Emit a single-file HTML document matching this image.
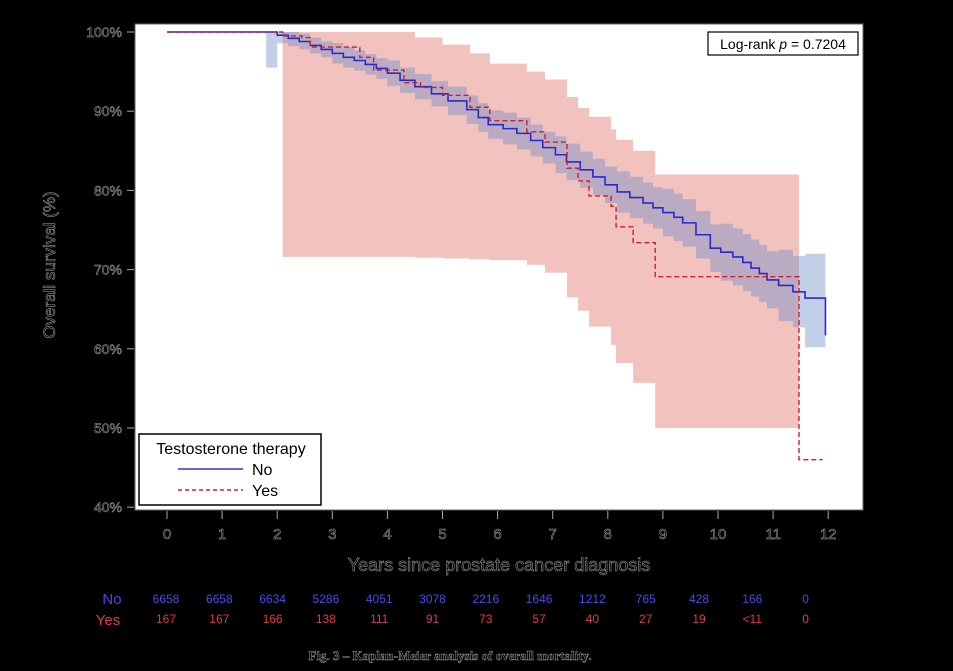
<!DOCTYPE html>
<html><head><meta charset="utf-8"><style>
html,body{margin:0;padding:0;background:#000;}
svg{display:block;}
.ol{fill:#000;stroke:#aaa;stroke-width:0.5px;font-family:"Liberation Sans",sans-serif;}
</style></head><body>
<svg id="chart" width="953" height="671" viewBox="0 0 953 671" xmlns="http://www.w3.org/2000/svg">
<rect x="0" y="0" width="953" height="671" fill="#000"/>
<rect x="135" y="24" width="728" height="486" fill="#fff" stroke="#666" stroke-width="1"/>
<g id="bands"></g>
<g id="lines"></g>
<g id="axes"></g>
<g id="table"></g>
<g>
<rect x="708" y="32" width="150" height="23" fill="#fff" stroke="#000" stroke-width="1.2"/>
<text x="783" y="49" text-anchor="middle" font-family="Liberation Sans,sans-serif" font-size="14" fill="#000">Log-rank <tspan font-style="italic">p</tspan> = 0.7204</text>
</g>
<g>
<rect x="139" y="434" width="182" height="71" fill="#fff" stroke="#000" stroke-width="1.5"/>
<text x="231" y="454" text-anchor="middle" font-family="Liberation Sans,sans-serif" font-size="16" fill="#000">Testosterone therapy</text>
<line x1="178" y1="469" x2="243" y2="469" stroke="#3333cc" stroke-width="1.5"/>
<text x="252" y="475" font-family="Liberation Sans,sans-serif" font-size="16" fill="#000">No</text>
<line x1="178" y1="490" x2="243" y2="490" stroke="#cc2233" stroke-width="1.5" stroke-dasharray="4,3"/>
<text x="252" y="496" font-family="Liberation Sans,sans-serif" font-size="16" fill="#000">Yes</text>
</g>
<text class="ol" x="0" y="0" transform="translate(55,265) rotate(-90)" text-anchor="middle" font-size="17">Overall survival (%)</text>
<text class="ol" x="499" y="571" text-anchor="middle" font-size="18">Years since prostate cancer diagnosis</text>
<text x="450" y="660" text-anchor="middle" font-family="Liberation Serif,serif" font-weight="bold" font-size="13" fill="#000" stroke="#999" stroke-width="0.5">Fig. 3 – Kaplan-Meier analysis of overall mortality.</text>
</svg>
<script>
const noTimes = [0,1.8,2.0,2.2,2.4,2.6,2.8,3.0,3.2,3.4,3.6,3.8,4.0,4.23,4.5,4.8,5.1,5.44,5.65,5.83,6.1,6.35,6.6,6.82,7.05,7.25,7.5,7.73,7.95,8.17,8.4,8.64,8.82,9.0,9.2,9.36,9.6,9.86,10.05,10.27,10.45,10.6,10.75,10.89,11.1,11.36,11.58,11.95];
const noSurv  = [100,100,99.6,99.2,98.8,98.3,97.8,97.3,96.8,96.4,95.9,95.4,94.8,93.9,93.1,92.2,91.3,90.2,89.2,88.3,87.8,87.2,86.3,85.4,84.5,83.6,82.6,81.7,80.7,79.8,79.1,78.4,77.8,77.2,76.6,75.9,74.4,72.7,72.2,71.6,70.9,70.2,69.5,68.7,68.0,67.2,66.4,61.7];
const noLower = [100,95.5,98.6,98.2,97.8,97.3,96.8,96.0,95.5,95.1,94.6,94.1,93.2,92.3,91.5,90.6,89.5,88.4,87.4,86.5,85.8,85.2,84.3,83.4,82.2,81.3,80.3,79.4,78.4,77.2,76.5,75.8,75.2,74.2,73.6,72.9,71.4,69.7,68.6,68.0,67.3,66.6,65.9,65.1,63.5,62.7,60.2,60.2];
const noUpper = [100,100,100,100,99.8,99.3,98.8,98.6,98.1,97.7,97.2,96.7,96.4,95.5,94.7,93.8,93.1,92.0,91.0,90.1,89.8,89.2,88.3,87.4,86.8,85.9,84.9,84.0,83.0,82.4,81.7,81.0,80.4,80.2,79.6,78.9,77.4,75.7,75.8,75.2,74.5,73.8,73.1,72.3,72.5,71.7,72.0,72.0];
const yesTimes = [0,2.1,2.45,2.6,3.5,3.75,4.3,4.6,5.0,5.5,5.86,6.53,6.86,7.26,7.46,7.66,8.06,8.15,8.46,8.86,11.47,11.9];
const yesSurv  = [100,99.5,99.3,98.1,96.8,95.2,93.6,93.0,92.0,90.5,88.8,87.4,86.1,82.8,81.2,79.3,78.0,75.4,73.4,69.1,46.0,46.0];
const ciTimes  = [2.1,3.8,4.5,5.0,5.5,5.86,6.53,6.86,7.26,7.46,7.66,8.06,8.15,8.46,8.86,11.47];
const yesUpper = [100,100,99.3,98.4,97.3,96.0,95.0,94.0,91.8,90.4,89.3,87.7,86.4,85.0,82.0,82.0];
const yesLower = [71.6,71.6,71.5,71.4,71.3,71.2,70.6,69.6,66.5,64.8,62.8,60.5,58.2,55.7,50.0,50.0];
const xTicks = [0,1,2,3,4,5,6,7,8,9,10,11,12];
const yTicks = [40,50,60,70,80,90,100];
const riskNo  = ["6658","6658","6634","5286","4051","3078","2216","1646","1212","765","428","166","0"];
const riskYes = ["167","167","166","138","111","91","73","57","40","27","19","<11","0"];

const NS='http://www.w3.org/2000/svg';
const X = t => 167 + t*55.1;
const Y = v => 32 + (100 - v)*7.92;
function mk(tag, attrs, parent){const e=document.createElementNS(NS,tag);for(const k in attrs)e.setAttribute(k,attrs[k]);parent.appendChild(e);return e;}
const bands=document.getElementById('bands'), lines=document.getElementById('lines'), axes=document.getElementById('axes'), table=document.getElementById('table');

function stepBand(times, up, lo, endT){
  let top='', bot=[];
  for(let i=0;i<times.length;i++){
    const t0=times[i], t1=(i<times.length-1)?times[i+1]:endT;
    top += (i===0?'M':'L')+X(t0)+','+Y(up[i])+' L'+X(t1)+','+Y(up[i])+' ';
    bot.unshift('L'+X(t1)+','+Y(lo[i])+' L'+X(t0)+','+Y(lo[i]));
  }
  return top+bot.join(' ')+' Z';
}
function stepLine(times, vals){
  let d='M'+X(times[0])+','+Y(vals[0]);
  for(let i=1;i<times.length;i++){ d+=' L'+X(times[i])+','+Y(vals[i-1])+' L'+X(times[i])+','+Y(vals[i]); }
  return d;
}
const rb=mk('path',{d:stepBand(ciTimes,yesUpper,yesLower,11.47),fill:'rgba(224,120,110,0.45)'},bands);


const nT=noTimes.slice(1,-1), nU=noUpper.slice(1,-1), nL=noLower.slice(1,-1);
const bb=mk('path',{d:stepBand(nT,nU,nL,11.95),fill:'rgba(110,140,200,0.42)'},bands);


const ln=mk('path',{d:stepLine(noTimes,noSurv),fill:'none',stroke:'#2a2acc','stroke-width':1.6},lines);


const ly=mk('path',{d:stepLine(yesTimes,yesSurv),fill:'none',stroke:'#c8202e','stroke-width':1.4,'stroke-dasharray':'5,3'},lines);



yTicks.forEach(v=>{
  const tk=mk('line',{x1:127,x2:134,y1:Y(v),y2:Y(v),stroke:'#aaa','stroke-width':1},axes);
  
  
  const tl=mk('text',{x:122,y:Y(v)+5,'text-anchor':'end','font-size':14,class:'ol'},axes);
  
  
  tl.textContent=v+'%';
});
xTicks.forEach(t=>{
  const tk=mk('line',{x1:X(t),x2:X(t),y1:511,y2:519,stroke:'#aaa','stroke-width':1},axes);
  
  
  const tl=mk('text',{x:X(t),y:539,'text-anchor':'middle','font-size':15,class:'ol'},axes);
  
  
  tl.textContent=t;
});
const hn=mk('text',{x:112,y:604,'text-anchor':'middle','font-size':15,fill:'#4a4af0','font-family':'Liberation Sans,sans-serif'},table);


hn.textContent='No';
const hy=mk('text',{x:108,y:625,'text-anchor':'middle','font-size':15,fill:'#e03a50','font-family':'Liberation Sans,sans-serif'},table);


hy.textContent='Yes';
riskNo.forEach((s,i)=>{
  const tx=166+i*53.3;
  const a=mk('text',{x:tx,y:603,'text-anchor':'middle','font-size':12,fill:'#4a4af0','font-family':'Liberation Sans,sans-serif'},table);
  
  
  a.textContent=s;
  const b=mk('text',{x:tx,y:623,'text-anchor':'middle','font-size':12,fill:'#e03a50','font-family':'Liberation Sans,sans-serif'},table);
  
  
  b.textContent=riskYes[i];
});
</script>
</body></html>
